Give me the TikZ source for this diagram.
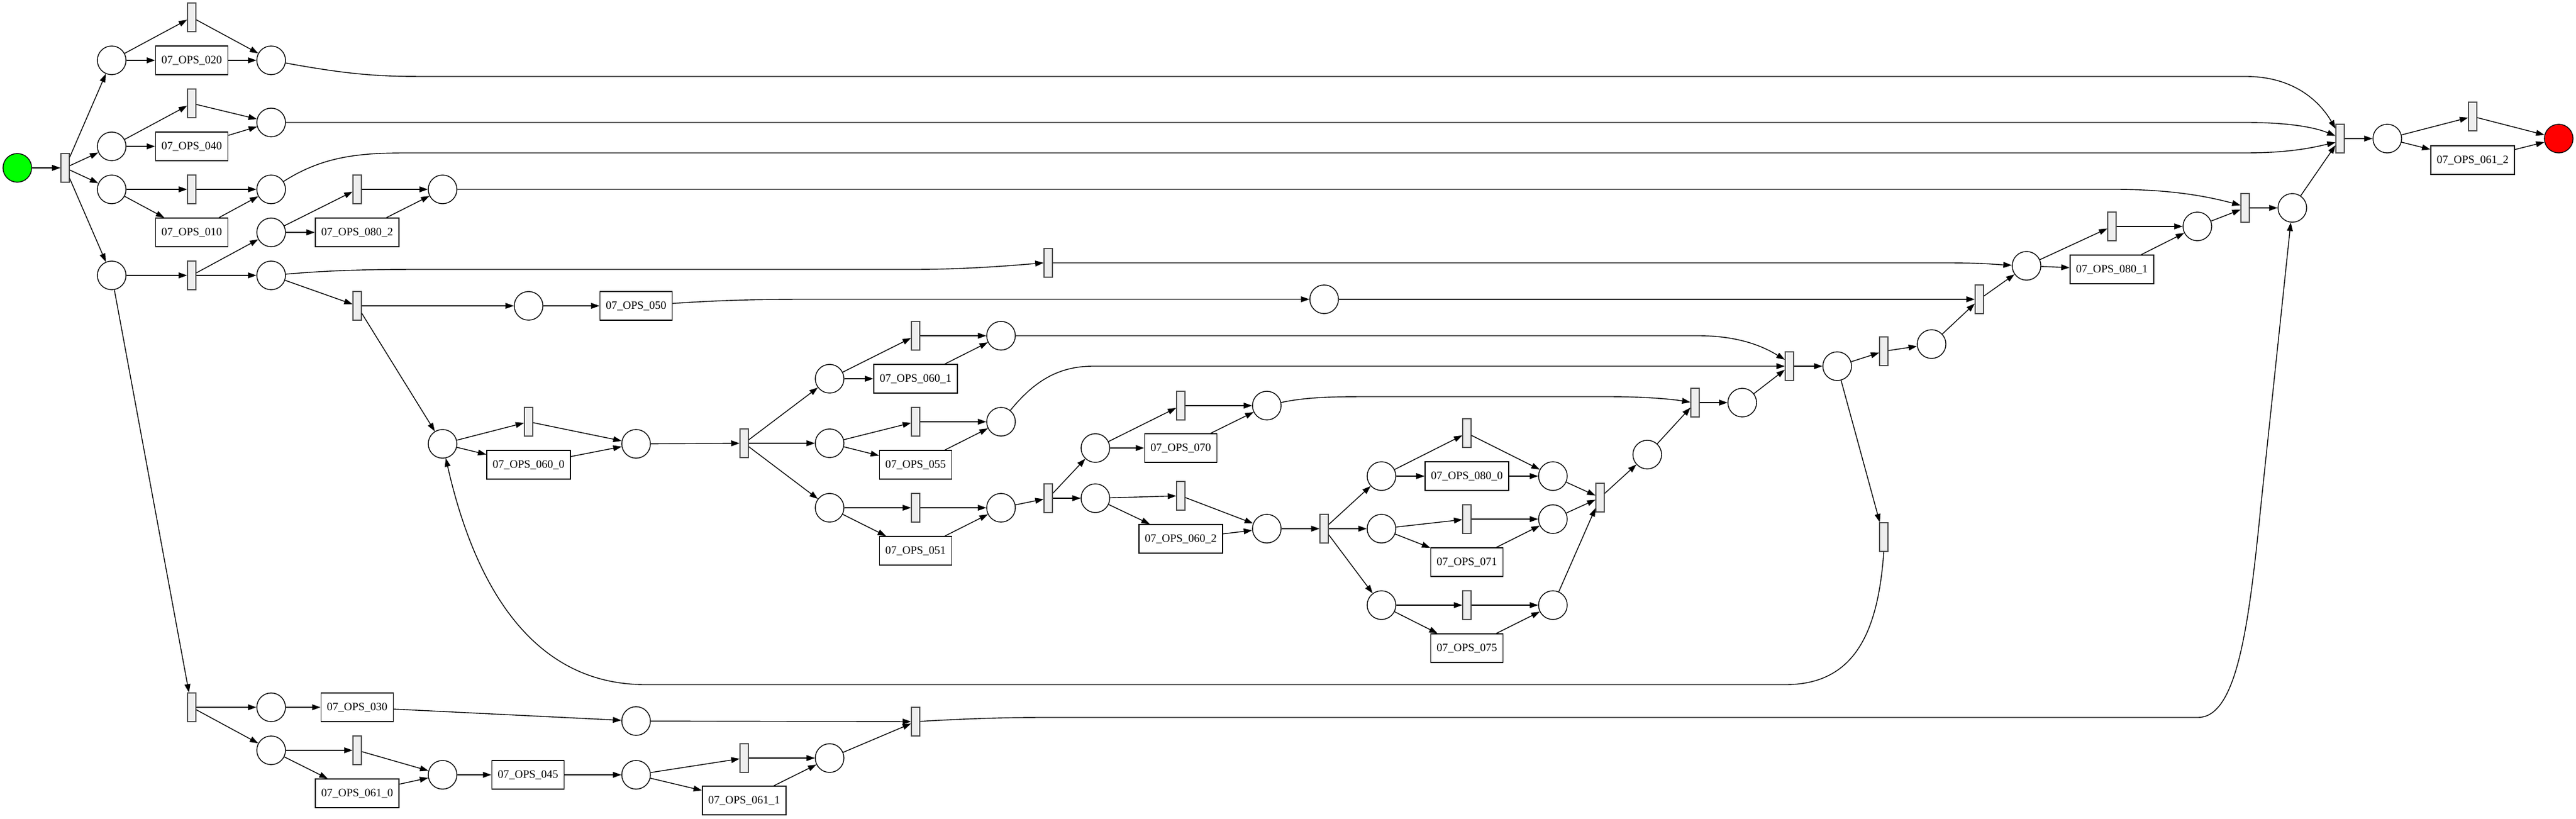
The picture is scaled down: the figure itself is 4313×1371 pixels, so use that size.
\documentclass[tikz,border=0pt]{standalone}
\usepackage{fontspec}
\setmainfont{Liberation Serif}
\usetikzlibrary{arrows.meta}
\definecolor{startgreen}{RGB}{0,255,0}
\definecolor{endred}{RGB}{255,0,0}
\definecolor{trgray}{RGB}{238,238,238}

\begin{document}
\begin{tikzpicture}[x=0.02cm,y=-0.02cm,
  pl/.style={circle,draw,line width=0.8pt,minimum size=0.96cm,inner sep=0pt,fill=white},
  sourcepl/.style={pl,fill=startgreen},
  sinkpl/.style={pl,fill=endred},
  tr/.style={rectangle,draw=black!70,fill=trgray,line width=0.8pt,minimum width=0.28cm,minimum height=0.96cm,inner sep=0pt},
  op/.style={rectangle,draw,fill=white,line width=0.8pt,minimum height=0.96cm,inner xsep=0.2cm,inner ysep=0pt,font=\fontsize{10.8}{13}\selectfont},
  flow/.style={-{Triangle[length=8pt,width=5.5pt]},line width=0.8pt}]
\useasboundingbox (0,0) rectangle (4313,1371);

\node[sourcepl] (source) at (29,281) {};
\node[tr] (t0) at (109,281) {};
\node[pl] (p1) at (187,101) {};
\node[pl] (p2) at (187,245) {};
\node[pl] (p3) at (187,317) {};
\node[pl] (p4) at (187,461) {};
\node[tr] (t1) at (321,29) {};
\node[op] (op020) at (321,101) {07\_OPS\_020};
\node[pl] (p5) at (454,101) {};
\node[tr] (t2) at (321,173) {};
\node[op] (op040) at (321,245) {07\_OPS\_040};
\node[pl] (p6) at (454,205) {};
\node[tr] (t3) at (321,317) {};
\node[op] (op010) at (321,389) {07\_OPS\_010};
\node[pl] (p7) at (454,317) {};
\node[tr] (t4) at (321,461) {};
\node[pl] (p8) at (454,389) {};
\node[pl] (p9) at (454,461) {};
\node[tr] (t5) at (598,317) {};
\node[op] (op080b) at (598,389) {07\_OPS\_080\_2};
\node[pl] (p10) at (741,317) {};
\node[tr] (t6) at (598,512) {};
\node[pl] (p11) at (885,512) {};
\node[op] (op050) at (1065,512) {07\_OPS\_050};
\node[pl] (p12) at (2217,501) {};
\node[tr] (t7) at (1755,440) {};

\node[tr] (t8) at (321,1184) {};
\node[pl] (p14) at (454,1184) {};
\node[op] (op030) at (598,1184) {07\_OPS\_030};
\node[pl] (p15) at (1065,1207) {};
\node[pl] (p16) at (454,1256) {};
\node[tr] (t9) at (598,1256) {};
\node[op] (op061a) at (598,1328) {07\_OPS\_061\_0};
\node[pl] (p17) at (741,1297) {};
\node[op] (op045) at (884,1297) {07\_OPS\_045};
\node[pl] (p18) at (1065,1297) {};
\node[tr] (t10) at (1246,1269) {};
\node[op] (op061b) at (1246,1340) {07\_OPS\_061\_1};
\node[pl] (p19) at (1389,1269) {};
\node[tr] (t11) at (1533,1208) {};

\node[pl] (p13) at (741,743) {};
\node[tr] (t12) at (885,706) {};
\node[op] (op060a) at (885,778) {07\_OPS\_060\_0};
\node[pl] (p20) at (1065,743) {};
\node[tr] (t13) at (1246,742) {};
\node[pl] (p21) at (1389,634) {};
\node[pl] (p22) at (1389,742) {};
\node[pl] (p23) at (1389,850) {};
\node[tr] (t14) at (1533,562) {};
\node[op] (op060b) at (1533,634) {07\_OPS\_060\_1};
\node[pl] (p24) at (1676,562) {};
\node[tr] (t15) at (1533,706) {};
\node[op] (op055) at (1533,778) {07\_OPS\_055};
\node[pl] (p25) at (1676,706) {};
\node[tr] (t16) at (1533,850) {};
\node[op] (op051) at (1533,922) {07\_OPS\_051};
\node[pl] (p26) at (1676,850) {};
\node[tr] (t17) at (1755,834) {};
\node[pl] (p27) at (1834,750) {};
\node[pl] (p28) at (1834,834) {};
\node[tr] (t18) at (1977,679) {};
\node[op] (op070) at (1977,750) {07\_OPS\_070};
\node[pl] (p29) at (2121,679) {};
\node[tr] (t19) at (1977,830) {};
\node[op] (op060c) at (1977,902) {07\_OPS\_060\_2};
\node[pl] (p30) at (2121,885) {};
\node[tr] (t20) at (2217,885) {};
\node[pl] (p31) at (2313,797) {};
\node[pl] (p32) at (2313,885) {};
\node[pl] (p33) at (2313,1013) {};
\node[tr] (t21) at (2456,725) {};
\node[op] (op080a) at (2456,797) {07\_OPS\_080\_0};
\node[pl] (p34) at (2600,797) {};
\node[tr] (t22) at (2456,869) {};
\node[op] (op071) at (2456,941) {07\_OPS\_071};
\node[pl] (p35) at (2600,869) {};
\node[tr] (t23) at (2456,1013) {};
\node[op] (op075) at (2456,1085) {07\_OPS\_075};
\node[pl] (p36) at (2600,1013) {};
\node[tr] (t24) at (2679,833) {};
\node[pl] (p37) at (2758,761) {};
\node[tr] (t25) at (2838,674) {};
\node[pl] (p38) at (2917,674) {};
\node[tr] (t26) at (2996,613) {};
\node[pl] (p39) at (3076,613) {};
\node[tr] (t27) at (3154,588) {};
\node[pl] (p41) at (3234,576) {};
\node[tr] (t28) at (3314,501) {};
\node[tr] (t31) at (3154,899) {};

\node[pl] (p42) at (3393,445) {};
\node[tr] (t29) at (3536,379) {};
\node[op] (op080c) at (3536,451) {07\_OPS\_080\_1};
\node[pl] (p43) at (3679,379) {};
\node[tr] (t30) at (3759,348) {};
\node[pl] (p40) at (3838,348) {};
\node[tr] (t32) at (3918,232) {};
\node[pl] (p44) at (3997,232) {};
\node[tr] (t33) at (4140,195) {};
\node[op] (op061c) at (4140,268) {07\_OPS\_061\_2};
\node[sinkpl] (sink) at (4284,232) {};

\draw[flow] (source) -- (t0);
\draw[flow] (t0) -- (p1);
\draw[flow] (t0) -- (p2);
\draw[flow] (t0) -- (p3);
\draw[flow] (t0) -- (p4);
\draw[flow] (p1) -- (t1);
\draw[flow] (p1) -- (op020);
\draw[flow] (t1) -- (p5);
\draw[flow] (op020) -- (p5);
\draw[flow] (p2) -- (t2);
\draw[flow] (p2) -- (op040);
\draw[flow] (t2) -- (p6);
\draw[flow] (op040) -- (p6);
\draw[flow] (p3) -- (t3);
\draw[flow] (p3) -- (op010);
\draw[flow] (t3) -- (p7);
\draw[flow] (op010) -- (p7);
\draw[flow] (p4) -- (t4);
\draw[flow] (t4) -- (p8);
\draw[flow] (t4) -- (p9);
\draw[flow] (p8) -- (t5);
\draw[flow] (p8) -- (op080b);
\draw[flow] (t5) -- (p10);
\draw[flow] (op080b) -- (p10);
\draw[flow] (p9) -- (t6);
\draw[flow] (t6) -- (p11);
\draw[flow] (p11) -- (op050);
\draw[flow] (t6) -- (p13);

\draw[flow] (p4) -- (t8);
\draw[flow] (t8) -- (p14);
\draw[flow] (t8) -- (p16);
\draw[flow] (p14) -- (op030);
\draw[flow] (op030) -- (p15);
\draw[flow] (p16) -- (t9);
\draw[flow] (p16) -- (op061a);
\draw[flow] (t9) -- (p17);
\draw[flow] (op061a) -- (p17);
\draw[flow] (p17) -- (op045);
\draw[flow] (op045) -- (p18);
\draw[flow] (p18) -- (t10);
\draw[flow] (p18) -- (op061b);
\draw[flow] (t10) -- (p19);
\draw[flow] (op061b) -- (p19);
\draw[flow] (p15) -- (t11);
\draw[flow] (p19) -- (t11);

\draw[flow] (p13) -- (t12);
\draw[flow] (p13) -- (op060a);
\draw[flow] (t12) -- (p20);
\draw[flow] (op060a) -- (p20);
\draw[flow] (p20) -- (t13);
\draw[flow] (t13) -- (p21);
\draw[flow] (t13) -- (p22);
\draw[flow] (t13) -- (p23);
\draw[flow] (p21) -- (t14);
\draw[flow] (p21) -- (op060b);
\draw[flow] (t14) -- (p24);
\draw[flow] (op060b) -- (p24);
\draw[flow] (p22) -- (t15);
\draw[flow] (p22) -- (op055);
\draw[flow] (t15) -- (p25);
\draw[flow] (op055) -- (p25);
\draw[flow] (p23) -- (t16);
\draw[flow] (p23) -- (op051);
\draw[flow] (t16) -- (p26);
\draw[flow] (op051) -- (p26);
\draw[flow] (p26) -- (t17);
\draw[flow] (t17) -- (p27);
\draw[flow] (t17) -- (p28);
\draw[flow] (p27) -- (t18);
\draw[flow] (p27) -- (op070);
\draw[flow] (t18) -- (p29);
\draw[flow] (op070) -- (p29);
\draw[flow] (p28) -- (t19);
\draw[flow] (p28) -- (op060c);
\draw[flow] (t19) -- (p30);
\draw[flow] (op060c) -- (p30);
\draw[flow] (p30) -- (t20);
\draw[flow] (t20) -- (p31);
\draw[flow] (t20) -- (p32);
\draw[flow] (t20) -- (p33);
\draw[flow] (p31) -- (t21);
\draw[flow] (p31) -- (op080a);
\draw[flow] (t21) -- (p34);
\draw[flow] (op080a) -- (p34);
\draw[flow] (p32) -- (t22);
\draw[flow] (p32) -- (op071);
\draw[flow] (t22) -- (p35);
\draw[flow] (op071) -- (p35);
\draw[flow] (p33) -- (t23);
\draw[flow] (p33) -- (op075);
\draw[flow] (t23) -- (p36);
\draw[flow] (op075) -- (p36);
\draw[flow] (p34) -- (t24);
\draw[flow] (p35) -- (t24);
\draw[flow] (p36) -- (t24);
\draw[flow] (t24) -- (p37);
\draw[flow] (p37) -- (t25);
\draw[flow] (t25) -- (p38);
\draw[flow] (p38) -- (t26);
\draw[flow] (t26) -- (p39);
\draw[flow] (p39) -- (t27);
\draw[flow] (t27) -- (p41);
\draw[flow] (p41) -- (t28);
\draw[flow] (p39) -- (t31);
\draw[flow] (p12) -- (t28);
\draw[flow] (t28) -- (p42);
\draw[flow] (p42) -- (t29);
\draw[flow] (p42) -- (op080c);
\draw[flow] (t29) -- (p43);
\draw[flow] (op080c) -- (p43);
\draw[flow] (p43) -- (t30);
\draw[flow] (t30) -- (p40);
\draw[flow] (p40) -- (t32);
\draw[flow] (t32) -- (p44);
\draw[flow] (p44) -- (t33);
\draw[flow] (p44) -- (op061c);
\draw[flow] (t33) -- (sink);
\draw[flow] (op061c) -- (sink);

\draw[flow] (p5) .. controls (600,128) and (650,128) .. (722,128) -- (3760,128) .. controls (3850,128) and (3890,180) .. (t32.115);
\draw[flow] (p6) -- (3760,205) .. controls (3840,205) and (3880,215) .. (t32.150);
\draw[flow] (p7) .. controls (540,262) and (600,256) .. (680,256) -- (3760,256) .. controls (3840,256) and (3880,245) .. (t32.220);
\draw[flow] (p10) -- (3540,317) .. controls (3640,317) and (3700,330) .. (t30.150);
\draw[flow] (p9) .. controls (560,452) and (620,451) .. (710,451) -- (1530,451) .. controls (1620,451) and (1700,444) .. (t7.west);
\draw[flow] (t7) -- (3260,440) .. controls (3320,440) and (3345,443) .. (p42);
\draw[flow] (op050) .. controls (1200,503) and (1260,501) .. (1350,501) -- (p12);
\draw[flow] (p24) -- (2843,562) .. controls (2920,562) and (2960,585) .. (t26.125);
\draw[flow] (p25) .. controls (1730,640) and (1770,613) .. (1830,613) -- (t26);
\draw[flow] (p29) .. controls (2190,664) and (2240,664) .. (2300,664) -- (2690,664) .. controls (2770,664) and (2810,670) .. (t25.175);
\draw[flow] (t11) .. controls (1620,1203) and (1680,1201) .. (1750,1201) -- (3680,1201) .. controls (3745,1201) and (3765,1050) .. (3785,850) -- (p40);
\draw[flow] (t31.south) .. controls (3145,1050) and (3110,1146) .. (2990,1146) -- (1080,1146) .. controls (880,1146) and (790,960) .. (p13);
\end{tikzpicture}
\end{document}
